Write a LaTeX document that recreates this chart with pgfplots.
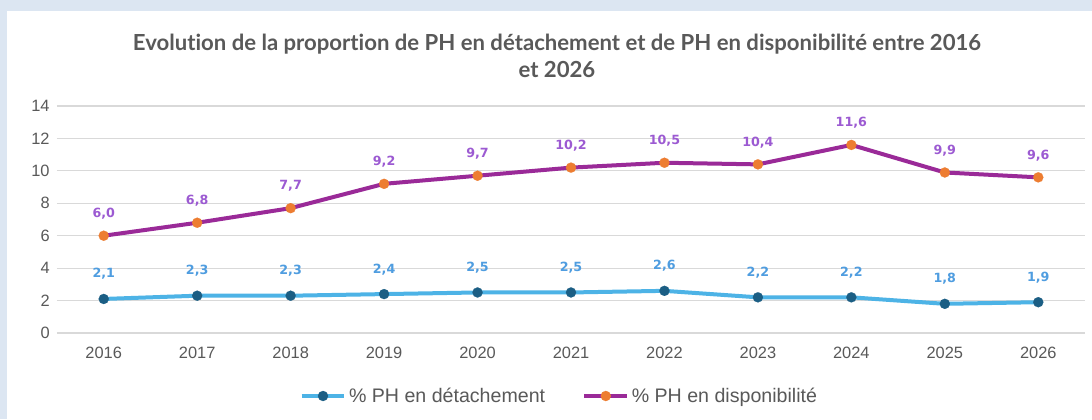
\documentclass[border=0pt]{standalone}
\usepackage{fontspec}
\setmainfont{Liberation Sans}
\newfontfamily\titlefont[Ligatures=NoCommon]{Lato}
\newfontfamily\labelfont{DejaVu Sans}
\usepackage{pgfplots}
\pgfplotsset{compat=1.18}
\definecolor{framebg}{HTML}{DCE6F2}
\definecolor{gridgray}{HTML}{D9D9D9}
\definecolor{textgray}{HTML}{595959}
\definecolor{lineblue}{HTML}{4DB3E6}
\definecolor{markteal}{HTML}{1B5E84}
\definecolor{linepurple}{HTML}{9A2A98}
\definecolor{markorange}{HTML}{ED7D31}
\definecolor{lblblue}{HTML}{4F9DE0}
\definecolor{lblpurple}{HTML}{9C5AD2}
\begin{document}
\begin{tikzpicture}
\begin{scope}[x=0.75pt,y=0.75pt]
\fill[framebg] (0,0) rectangle (1092,419);
\fill[white] (7,0) rectangle (1092,408);
\node[align=center, text=textgray, font=\titlefont\bfseries\fontsize{16.6}{20}\selectfont] at (557,363)
  {Evolution de la proportion de PH en détachement et de PH en disponibilité entre 2016\\et 2026};
\end{scope}
\begin{axis}[
  at={(42.75pt,64.5pt)}, anchor=south west, scale only axis,
  width=771pt, height=170.25pt,
  /pgf/number format/assume math mode=true,
  xmin=-0.5, xmax=10.5, ymin=0, ymax=14,
  ytick={0,2,...,14}, xtick={0,...,10},
  xticklabels={2016,2017,2018,2019,2020,2021,2022,2023,2024,2025,2026},
  axis line style={draw=none}, major tick length=0pt,
  ymajorgrids, grid style={color=gridgray, line width=0.8pt},
  tick label style={text=textgray, font=\fontsize{12.3}{14}\selectfont},
  xticklabel style={yshift=-7pt},
  yticklabel style={xshift=-2pt},
  clip=false,
  nodes near coords={\pgfmathprintnumber[fixed, fixed zerofill, precision=1, use comma, assume math mode=true]{\pgfplotspointmeta}},
  nodes near coords style={anchor=south, yshift=11pt, font=\labelfont\bfseries\fontsize{9.5}{11}\selectfont},
  legend style={at={(0.489,-0.2775)}, anchor=center, draw=none, fill=none, legend columns=2,
    font=\fontsize{14.7}{16}\selectfont, text=textgray, inner xsep=0pt,
    /tikz/every even column/.append style={column sep=26pt},
    /tikz/every odd column/.append style={column sep=0pt}},
  legend image code/.code={\draw[mark repeat=2,mark phase=2,#1] plot coordinates {(0pt,0pt) (16pt,0pt) (32pt,0pt)};},
  legend cell align=left,
]
\addplot[color=lineblue, line width=3pt, mark=*, mark size=3.8pt,
  mark options={solid, draw=markteal, fill=markteal, line width=0.1pt},
  every node near coord/.append style={text=lblblue}]
  coordinates {(0,2.1) (1,2.3) (2,2.3) (3,2.4) (4,2.5) (5,2.5) (6,2.6) (7,2.2) (8,2.2) (9,1.8) (10,1.9)};
\addlegendentry{\% PH en détachement}
\addplot[color=linepurple, line width=3pt, mark=*, mark size=3.8pt,
  mark options={solid, draw=markorange, fill=markorange, line width=0.1pt},
  every node near coord/.append style={text=lblpurple, yshift=-2pt}]
  coordinates {(0,6.0) (1,6.8) (2,7.7) (3,9.2) (4,9.7) (5,10.2) (6,10.5) (7,10.4) (8,11.6) (9,9.9) (10,9.6)};
\addlegendentry{\% PH en disponibilité}
\end{axis}
\end{tikzpicture}
\end{document}
